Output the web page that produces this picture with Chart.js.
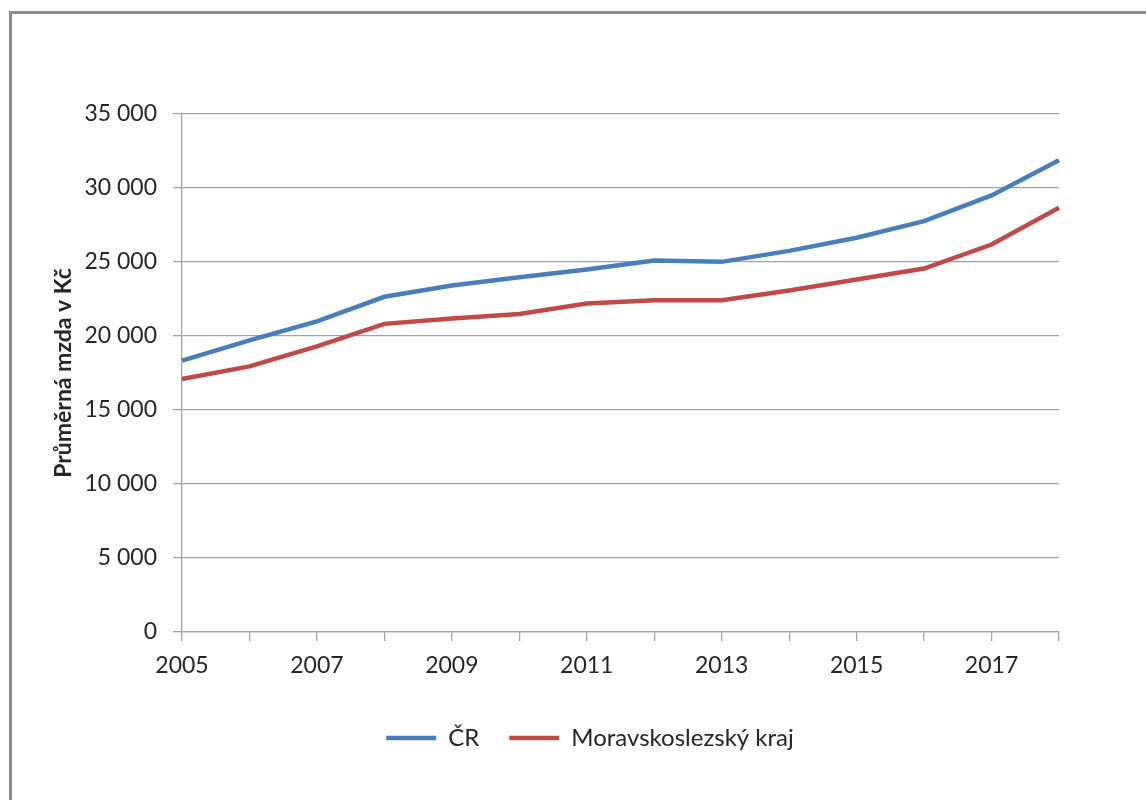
<!DOCTYPE html>
<html lang="cs">
<head>
<meta charset="utf-8">
<title>Průměrná mzda</title>
<script src="https://cdn.jsdelivr.net/npm/chart.js@4"></script>
<style>
  html, body { margin: 0; padding: 0; background: #fff; overflow: hidden; }
  #frame {
    position: absolute; left: 9px; top: 11px;
    width: 1200px; height: 850px;
    border: 3px solid #8c8c8c; box-sizing: border-box;
  }
  #chart { position: absolute; left: 0; top: 0; }
</style>
</head>
<body>
<div id="frame"></div>
<canvas id="chart" width="1146" height="800"></canvas>
<script>
// průměrná hrubá mzda (Kč)
const years = ["2005", "2006", "2007", "2008", "2009", "2010", "2011", "2012", "2013", "2014", "2015", "2016", "2017", "2018"];
const shownYears = ["2005", "2007", "2009", "2011", "2013", "2015", "2017"];
const cr = [18340, 19710, 20990, 22650, 23410, 23970, 24490, 25100, 25010, 25750, 26640, 27760, 29500, 31870];
const msk = [17100, 17950, 19300, 20820, 21180, 21490, 22190, 22420, 22420, 23070, 23820, 24560, 26180, 28660];
const yMin = 0;
const yMax = 35000;
const yStep = 5000;

const textColor = "#262626";
const gridColor = "#a3a3a3";
const fontFamily = "Lato, 'Open Sans', sans-serif";
const LEGEND_MID = 590;

function formatThousands(v) {
    return String(v).replace(/\B(?=(\d{3})+(?!\d))/g, " ");
}

// legenda je v Excelu centrovaná na celý rámeček grafu, ne na plochu bez popisku osy
const legendCenter = {
    id: "legendCenter",
    afterLayout(chart) {
        const lg = chart.legend;
        const half = (lg.right - lg.left) / 2;
        lg.left = LEGEND_MID - half;
        lg.right = LEGEND_MID + half;
    }
};

new Chart(document.getElementById("chart"), {
    type: "line",
    data: {
        labels: years,
        datasets: [{
            label: "ČR",
            data: cr,
            borderColor: "#4a7ebb",
            backgroundColor: "#4a7ebb",
            borderWidth: 4.5,
            pointRadius: 0,
            tension: 0
        }, {
            label: "Moravskoslezský kraj",
            data: msk,
            borderColor: "#be4b48",
            backgroundColor: "#be4b48",
            borderWidth: 4.5,
            pointRadius: 0,
            tension: 0
        }]
    },
    options: {
        responsive: false,
        animation: false,
        devicePixelRatio: 1,
        layout: { padding: { left: 47, top: 114, right: 87, bottom: 40 } },
        plugins: {
            tooltip: { enabled: false },
            legend: {
                position: "bottom",
                labels: {
                    usePointStyle: true,
                    pointStyle: "line",
                    pointStyleWidth: 50,
                    padding: 30,
                    color: textColor,
                    font: { family: fontFamily, size: 24 }
                }
            }
        },
        scales: {
            x: {
                offset: false,
                grid: { drawOnChartArea: false, tickLength: 9, color: gridColor, lineWidth: 1.3 },
                border: { color: gridColor, width: 1.3 },
                ticks: {
                    autoSkip: false,
                    maxRotation: 0,
                    padding: 11,
                    color: textColor,
                    font: { family: fontFamily, size: 23 },
                    callback: function(value) {
                        const label = this.getLabelForValue(value);
                        return shownYears.includes(label) ? label : "";
                    }
                },
                afterFit: function(scale) { scale.height = 64; }
            },
            y: {
                min: yMin,
                max: yMax,
                grid: { tickLength: 9, color: gridColor, lineWidth: 1.3 },
                border: { color: gridColor, width: 1.3 },
                ticks: {
                    stepSize: yStep,
                    padding: 16,
                    color: textColor,
                    font: { family: fontFamily, size: 23 },
                    callback: formatThousands
                },
                title: {
                    display: true,
                    text: "Průměrná mzda v Kč",
                    color: textColor,
                    padding: { top: 3, bottom: 0 },
                    font: { family: fontFamily, size: 23, weight: "bold" }
                },
                afterFit: function(scale) { scale.width = 135; }
            }
        }
    },
    plugins: [legendCenter]
});
</script>
</body>
</html>
